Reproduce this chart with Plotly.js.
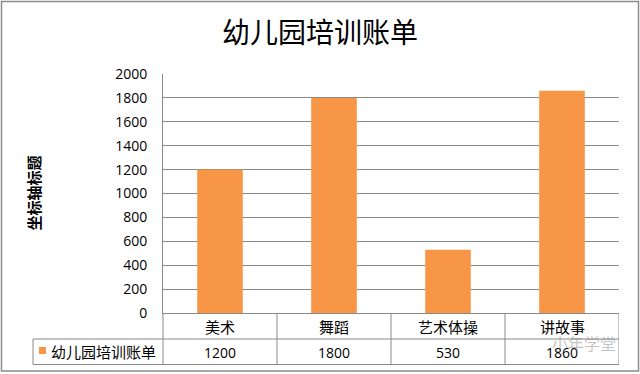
<!DOCTYPE html>
<html>
<head>
<meta charset="utf-8">
<script src="https://cdn.plot.ly/plotly-3.0.1.min.js"></script>
<style>html,body{margin:0;padding:0;background:#fff;}#chart{width:640px;height:374px;}</style>
</head>
<body>
<div id="chart"></div>
<script>
var categories = ['美术', '舞蹈', '艺术体操', '讲故事'];
var seriesName = '幼儿园培训账单';
var values = [1200, 1800, 530, 1860];
var chartTitle = '幼儿园培训账单';
var yAxisTitle = '坐标轴标题';
var watermark = '小年学堂';

var W = 640, H = 374, L = 163, R = 21, T = 74, B = 61;
var pw = W - L - R, ph = H - T - B;
function px(X) { return (X - L) / pw; }
function py(Y) { return (H - B - Y) / ph; }

var cjk = '"Noto Sans CJK SC", sans-serif';
var num = '"Open Sans", "Liberation Sans", sans-serif';
var lineCol = '#898989';
var orange = '#F79646';

var shapes = [];
var annotations = [];

// outer chart border
shapes.push({type:'rect', xref:'paper', yref:'paper', x0:px(1.5), x1:px(638.5), y0:py(1.5), y1:py(371), line:{color:'#8c8c8c', width:1.5}, fillcolor:'rgba(0,0,0,0)', layer:'below'});

// table horizontal lines
shapes.push({type:'line', xref:'paper', yref:'paper', x0:px(33), x1:1, y0:py(339), y1:py(339), line:{color:lineCol, width:1}});
shapes.push({type:'line', xref:'paper', yref:'paper', x0:px(33), x1:1, y0:py(364.5), y1:py(364.5), line:{color:lineCol, width:1}});
// table vertical lines
shapes.push({type:'line', xref:'paper', yref:'paper', x0:px(33), x1:px(33), y0:py(339), y1:py(364.5), line:{color:lineCol, width:1}});
shapes.push({type:'line', xref:'paper', yref:'paper', x0:0, x1:0, y0:0, y1:py(364.5), line:{color:lineCol, width:1}});
for (var k = 0; k < categories.length; k++) {
  shapes.push({type:'line', xref:'x', yref:'paper', x0:k + 0.5, x1:k + 0.5, y0:0, y1:py(364.5), line:{color:lineCol, width:1}});
}
// legend key square
shapes.push({type:'rect', xref:'paper', yref:'paper', x0:px(39), x1:px(46), y0:py(347), y1:py(354), fillcolor:orange, line:{width:0}});

// header and value cells
categories.forEach(function (c, i) {
  annotations.push({xref:'x', yref:'paper', x:c, y:py(326), text:c, showarrow:false, xanchor:'center', yanchor:'middle', font:{family:cjk, size:15, color:'#000'}});
  annotations.push({xref:'x', yref:'paper', x:c, y:py(352), text:String(values[i]), showarrow:false, xanchor:'center', yanchor:'middle', font:{family:num, size:14, color:'#000'}});
});
annotations.push({xref:'paper', yref:'paper', x:px(49), y:py(351), text:seriesName, showarrow:false, xanchor:'left', yanchor:'middle', font:{family:cjk, size:15, color:'#000'}});
// y axis title
annotations.push({xref:'paper', yref:'paper', x:px(32.5), y:py(193), text:'<b>' + yAxisTitle + '</b>', textangle:-90, showarrow:false, xanchor:'center', yanchor:'middle', font:{family:cjk, size:15, color:'#000'}});
// watermark
annotations.push({xref:'paper', yref:'paper', x:px(618), y:py(343), text:watermark, showarrow:false, xanchor:'right', yanchor:'middle', font:{family:cjk, size:16, color:'rgba(120,120,120,0.45)'}});

var data = [{
  type:'bar', x:categories, y:values, name:seriesName,
  marker:{color:orange, line:{width:0}}, hoverinfo:'none'
}];

var layout = {
  width:W, height:H,
  margin:{l:L, r:R, t:T, b:B, pad:0},
  paper_bgcolor:'#fff', plot_bgcolor:'#fff',
  showlegend:false,
  bargap:0.6,
  title:{text:chartTitle, font:{family:cjk, size:28, color:'#000'}, x:320 / W, xanchor:'center', xref:'container', y:1 - 33/H, yref:'container', yanchor:'middle'},
  xaxis:{type:'category', range:[-0.5, 3.5], showticklabels:false, ticks:'', showgrid:false, zeroline:false, showline:true, linecolor:lineCol, linewidth:1, fixedrange:true},
  yaxis:{range:[0, 2000], dtick:200, tick0:0, showgrid:true, gridcolor:lineCol, gridwidth:1, zeroline:false, showline:true, linecolor:lineCol, linewidth:1, ticks:'outside', ticklen:12, tickcolor:'rgba(0,0,0,0)', tickfont:{family:num, size:14, color:'#000'}, fixedrange:true},
  shapes:shapes,
  annotations:annotations
};

Plotly.newPlot('chart', data, layout, {displayModeBar:false, staticPlot:true});
</script>
</body>
</html>
